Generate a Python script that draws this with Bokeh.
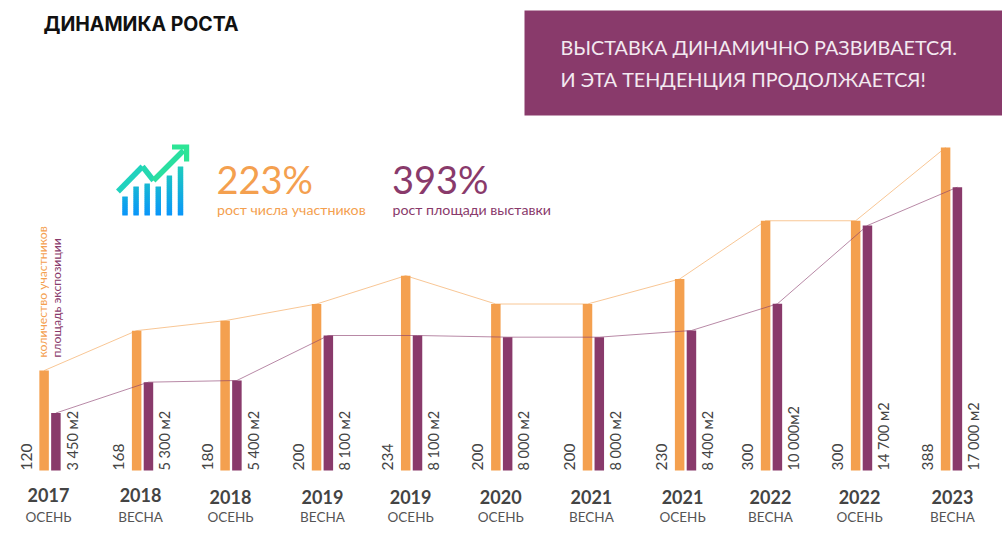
from math import pi
from bokeh.plotting import figure
from bokeh.models import Range1d
from bokeh.core.properties import value
from bokeh.embed import file_html
from bokeh.resources import INLINE

# ---------- data ----------
years = ["2017", "2018", "2018", "2019", "2019", "2020", "2021", "2021", "2022", "2022", "2023"]
seasons = ["ОСЕНЬ", "ВЕСНА", "ОСЕНЬ", "ВЕСНА", "ОСЕНЬ", "ОСЕНЬ", "ВЕСНА", "ОСЕНЬ", "ВЕСНА", "ОСЕНЬ", "ВЕСНА"]
participants = [120, 168, 180, 200, 234, 200, 200, 230, 300, 300, 388]
area = [3450, 5300, 5400, 8100, 8100, 8000, 8000, 8400, 10000, 14700, 17000]
area_labels = ["3 450 м2", "5 300 м2", "5 400 м2", "8 100 м2", "8 100 м2", "8 000 м2",
               "8 000 м2", "8 400 м2", "10 000м2", "14 700 м2", "17 000 м2"]
icon_bars = [19, 29, 32, 29, 40, 49]

# ---------- layout ----------
ORANGE = "#F4A04F"
PURPLE = "#893A6B"
GREY = "#444444"
PAGE_L, PAGE_R, PAGE_T, PAGE_B = 0, 1002, 0, 550
BASE_Y = 470
X0, STEP = 49.5, 90.15
PX_PER_PART = 0.8325
PX_PER_AREA = 1 / 60
nudge_px = [0, 2.4, 0.7, 2, 1, 1, 2.5, 4.5, 0.3, 0.2, 0]
label_nudge_px = [-1.5, -2, -0.5, 0, -1, -1, -2, -3, -1, -2, 1]
BAR_OFF, BAR_W = 5.9 / STEP, 9.5 / STEP

p = figure(width=PAGE_R - PAGE_L, height=PAGE_B - PAGE_T, output_backend="svg", toolbar_location=None,
           min_border=0, x_axis_location=None, y_axis_location=None,
           x_range=Range1d((PAGE_L - X0) / STEP, (PAGE_R - X0) / STEP),
           y_range=Range1d(-(PAGE_B - BASE_Y) / PX_PER_PART, (BASE_Y - PAGE_T) / PX_PER_PART))
p.extra_y_ranges["area"] = Range1d(-(PAGE_B - BASE_Y) / PX_PER_AREA, (BASE_Y - PAGE_T) / PX_PER_AREA)
p.extra_x_ranges["px"] = Range1d(PAGE_L, PAGE_R)
p.extra_y_ranges["px"] = Range1d(PAGE_B, PAGE_T)
p.grid.visible = False
p.outline_line_color = None
p.background_fill_color = "white"

idx = [i + n / STEP for i, n in enumerate(nudge_px)]
lab_idx = [c + n / STEP for c, n in zip(idx, label_nudge_px)]
ox = [c - BAR_OFF for c in idx]
ax = [c + BAR_OFF for c in idx]

p.vbar(x=ox, top=participants, bottom=0, width=BAR_W, fill_color=ORANGE, line_color=None)
p.vbar(x=ax, top=area, bottom=0, width=BAR_W, fill_color=PURPLE, line_color=None, y_range_name="area")
p.line(ox, participants, line_color=ORANGE, line_alpha=0.6, line_width=1)
p.line(ax, area, line_color=PURPLE, line_alpha=0.6, line_width=1, y_range_name="area")

# value labels
VAL_FONT = value("Lato")
p.text(x=[c - 24 / STEP for c in idx], y=[0] * 11, text=[str(v) for v in participants], angle=pi / 2,
       text_font=VAL_FONT, text_font_size="15.5px", text_color=GREY, text_align="left", text_baseline="middle")
p.text(x=[c + 22 / STEP for c in idx], y=[0] * 11, text=area_labels, angle=pi / 2,
       text_font=VAL_FONT, text_font_size="14.5px", text_color=GREY, text_align="left", text_baseline="middle")

# category labels
label_y = [494, 494, 496, 496, 496, 496, 496, 496, 496, 496, 496]
season_y = [516] * 11
p.text(x=lab_idx, y=label_y, text=years, y_range_name="px",
       text_font=value("Lato"), text_font_style="bold", text_font_size="18px", text_color=GREY,
       text_align="center", text_baseline="middle")
p.text(x=lab_idx, y=season_y, text=seasons, y_range_name="px",
       text_font=value("Lato"), text_font_size="13.5px", text_color="#555555",
       text_align="center", text_baseline="middle")

PX = dict(x_range_name="px", y_range_name="px")

def label(x, y, s, color, size, font="Lato", style="normal", angle=0.0):
    p.text(x=[x], y=[y], text=[s], angle=angle, text_color=color, text_font=value(font),
           text_font_size=size, text_font_style=style, text_baseline="middle", **PX)

# header
label(43, 23.5, "ДИНАМИКА РОСТА", "#111111", "19.5px", font="Inter", style="bold")
p.quad(left=[524], right=[1002], top=[10], bottom=[115], fill_color=PURPLE, line_color=None, **PX)
label(560, 46, "ВЫСТАВКА ДИНАМИЧНО РАЗВИВАЕТСЯ.", "#F3E9F0", "19.8px")
label(560, 78.5, "И ЭТА ТЕНДЕНЦИЯ ПРОДОЛЖАЕТСЯ!", "#F3E9F0", "19.8px")

# KPI blocks
label(216, 178, "223%", ORANGE, "38px")
label(391.5, 178, "393%", PURPLE, "38px")
label(216.5, 209, "рост числа участников", ORANGE, "14.2px")
label(392, 209, "рост площади выставки", PURPLE, "14.2px")

# rotated legend
label(41.5, 357, "количество участников", ORANGE, "12.2px", angle=pi / 2)
label(55.5, 357, "площадь экспозиции", PURPLE, "12.2px", angle=pi / 2)

# icon: gradient bars, trend line and arrow
def mix(a, b, t):
    return "#%02x%02x%02x" % tuple(round(u + (v - u) * t) for u, v in zip(a, b))

LOW, HIGH = (10, 150, 250), (35, 220, 170)
ICON_BOTTOM, ICON_TOP = 215, 152
for j, h in enumerate(icon_bars):
    cx = 124.5 + 11.1 * j
    top = ICON_BOTTOM - h
    y = ICON_BOTTOM
    while y > top:
        t = (ICON_BOTTOM - y) / (ICON_BOTTOM - ICON_TOP)
        nxt = max(y - 2, top)
        p.quad(left=[cx - 2.7], right=[cx + 2.7], top=[nxt], bottom=[y + 0.8 if y < ICON_BOTTOM else y],
               fill_color=mix(LOW, HIGH, t), line_color=None, **PX)
        y = nxt
trend_x = [117.5, 142, 153, 183]
trend_y = [191, 166, 180, 150]
cols = ["#20D2BE", "#24D8B0", "#2ADFA0"]
for k in range(3):
    p.line(trend_x[k:k + 2], trend_y[k:k + 2], line_color=cols[k], line_width=5.5, **PX)
p.patch([171.5, 188.7, 188.7, 183.5, 183.5, 171.5], [144, 144, 161, 161, 149, 149],
        fill_color="#2DE596", line_color=None, **PX)

open("out.html", "w").write(file_html(p, INLINE))
